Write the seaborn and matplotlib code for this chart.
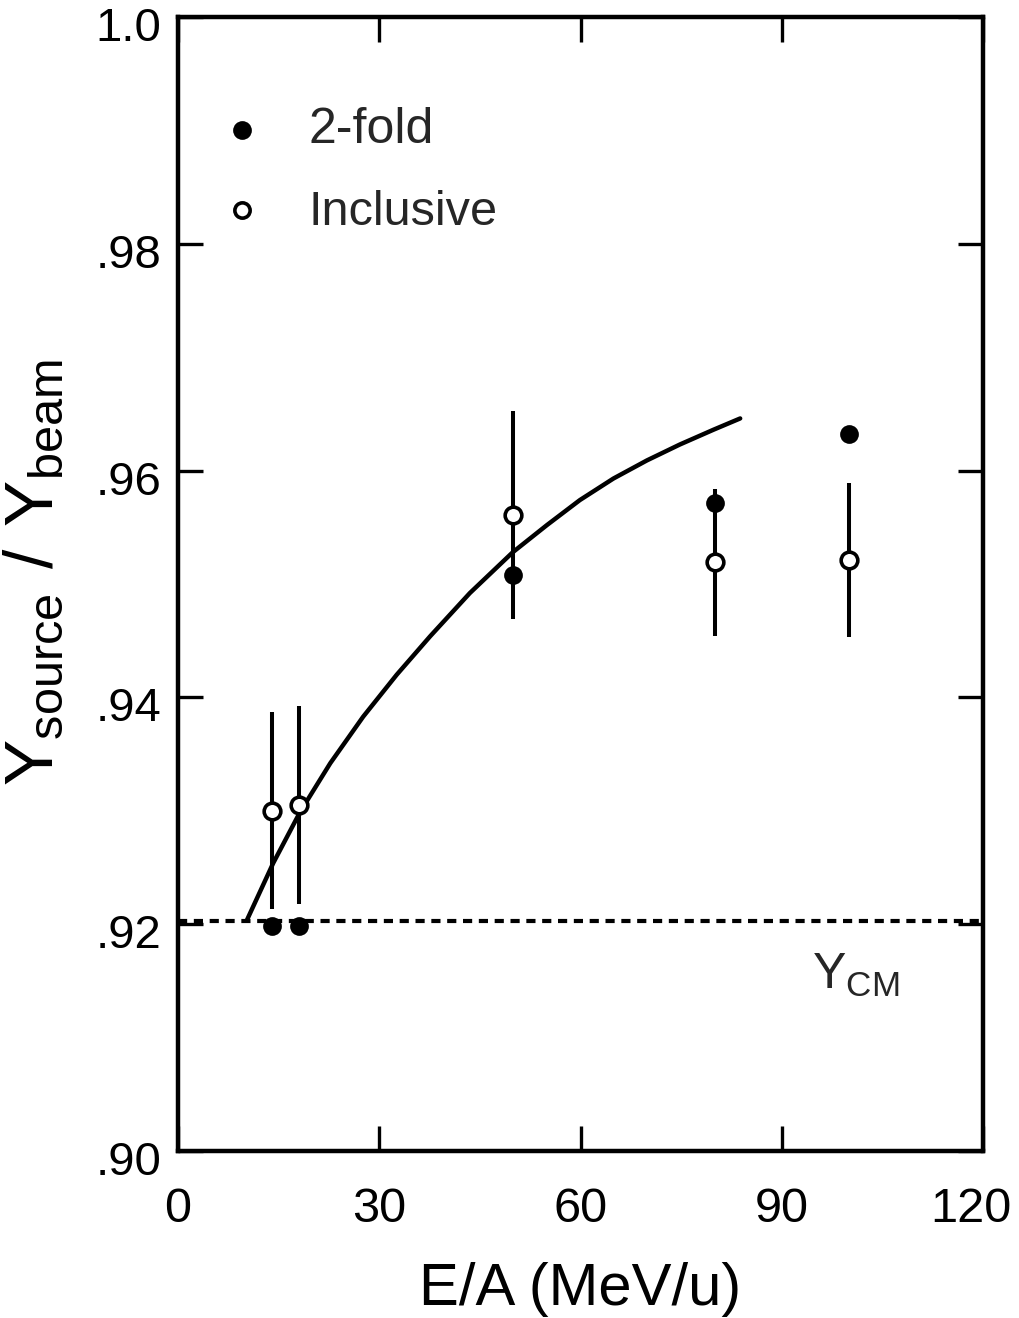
import numpy as np
import pandas as pd
import matplotlib
matplotlib.use("Agg")
import matplotlib.pyplot as plt
import matplotlib.transforms as mtransforms
from matplotlib import font_manager
import seaborn as sns

# ---------------- data ----------------
energy = [14, 18, 50, 80, 100]
twofold = [0.9198, 0.9198, 0.9508, 0.9571, 0.9632]
inclusive = [0.9300, 0.9305, 0.9561, 0.9519, 0.9521]
inclusive_err = [0.0087, 0.0087, 0.0092, 0.0065, 0.0068]

curve_x = [10.3, 14.2, 18.2, 22.7, 27.6, 32.6, 37.6, 43.5, 49.9, 55.0, 59.9, 64.9, 69.9, 74.8, 79.8, 83.8]
curve_y = [0.9204, 0.9254, 0.9299, 0.9342, 0.9383, 0.9420, 0.9454, 0.9492, 0.9528, 0.9552, 0.9574,
           0.9593, 0.9609, 0.9623, 0.9636, 0.9646]

y_cm = 0.9203

x_ticks = [0, 30, 60, 90, 120]
y_ticks = [0.90, 0.92, 0.94, 0.96, 0.98, 1.00]
y_tick_labels = [".90", ".92", ".94", ".96", ".98", "1.0"]

# ---------------- style ----------------
sns.set_theme(style="ticks")
available = {f.name for f in font_manager.fontManager.ttflist}
fams = [f for f in ["Liberation Sans Narrow", "Liberation Sans", "DejaVu Sans"] if f in available]
plt.rcParams["font.family"] = fams
plt.rcParams["mathtext.fontset"] = "custom"
plt.rcParams["mathtext.rm"] = fams[0]

fig = plt.figure(figsize=(10.19, 13.18), dpi=100)
ax = fig.add_axes([0.1747, 0.1267, 0.79, 0.8604])

lw = 3.2
# curve
df_curve = pd.DataFrame({"x": curve_x, "y": curve_y})
sns.lineplot(data=df_curve, x="x", y="y", ax=ax, color="black", linewidth=lw, sort=False, zorder=3)

# Y_CM dotted line
ax.axhline(y_cm, color="black", linewidth=3.0, linestyle=(0, (2.2, 1.6)), zorder=2)

# error bars (inclusive)
ax.errorbar(energy, inclusive, yerr=inclusive_err, fmt="none", ecolor="black",
            elinewidth=2.9, capsize=0, zorder=4)

# points
df_pts = pd.DataFrame({"E": energy, "two": twofold, "inc": inclusive})
sns.scatterplot(data=df_pts, x="E", y="two", ax=ax, marker="o", s=13.5**2,
                color="black", edgecolor="black", linewidth=0, zorder=5)
sns.scatterplot(data=df_pts, x="E", y="inc", ax=ax, marker="o", s=12**2,
                facecolor="white", edgecolor="black", linewidth=2.6, zorder=6)

ax.set_xlim(0, 120)
ax.set_ylim(0.90, 1.00)
ax.set_xticks(x_ticks)
ax.set_xticklabels([str(v) for v in x_ticks])
ax.set_yticks(y_ticks)
ax.set_yticklabels(y_tick_labels)

for s in ax.spines.values():
    s.set_linewidth(3.2)
    s.set_color("black")
    s.set_visible(True)

ax.tick_params(axis="both", which="major", direction="in", length=18, width=2.4,
               top=True, right=True, color="black")
ax.tick_params(axis="x", labelsize=35, pad=26, labelcolor="black")
ax.tick_params(axis="y", labelsize=34, pad=12, labelcolor="black")

# y tick labels sit slightly below their ticks in the reference
offset = mtransforms.ScaledTranslation(0, -7 / 100, fig.dpi_scale_trans)
for lab in ax.get_yticklabels():
    lab.set_transform(lab.get_transform() + offset)
# last x tick label is pulled in a little from the right edge
xlabs = ax.get_xticklabels()
xlabs[-1].set_transform(xlabs[-1].get_transform()
                        + mtransforms.ScaledTranslation(-12 / 100, 0, fig.dpi_scale_trans))

ax.set_xlabel("E/A (MeV/u)", fontsize=43, color="black")
ax.xaxis.set_label_coords(0.5, -0.098)
ax.set_ylabel(r"$\mathregular{Y_{source}\ /\ Y_{beam}}$", fontsize=50, color="black")
ax.yaxis.set_label_coords(-0.138, 0.51)

# legend (manual)
ax.plot([0.0795], [0.900], transform=ax.transAxes, marker="o", ms=13.5, color="black",
        mew=0, linestyle="none", clip_on=False)
ax.plot([0.0795], [0.830], transform=ax.transAxes, marker="o", ms=11, mfc="white",
        mec="black", mew=2.6, linestyle="none", clip_on=False)
ax.text(0.1615, 0.900, "2-fold", transform=ax.transAxes, fontsize=36, va="center", ha="left")
ax.text(0.1615, 0.828, "Inclusive", transform=ax.transAxes, fontsize=35, va="center", ha="left")

# Y_CM label
ax.text(94.5, 0.9155, r"$\mathregular{Y_{CM}}$", fontsize=36, va="center", ha="left")

ax.grid(False)
fig.savefig("out.png", dpi=100, facecolor="white")
